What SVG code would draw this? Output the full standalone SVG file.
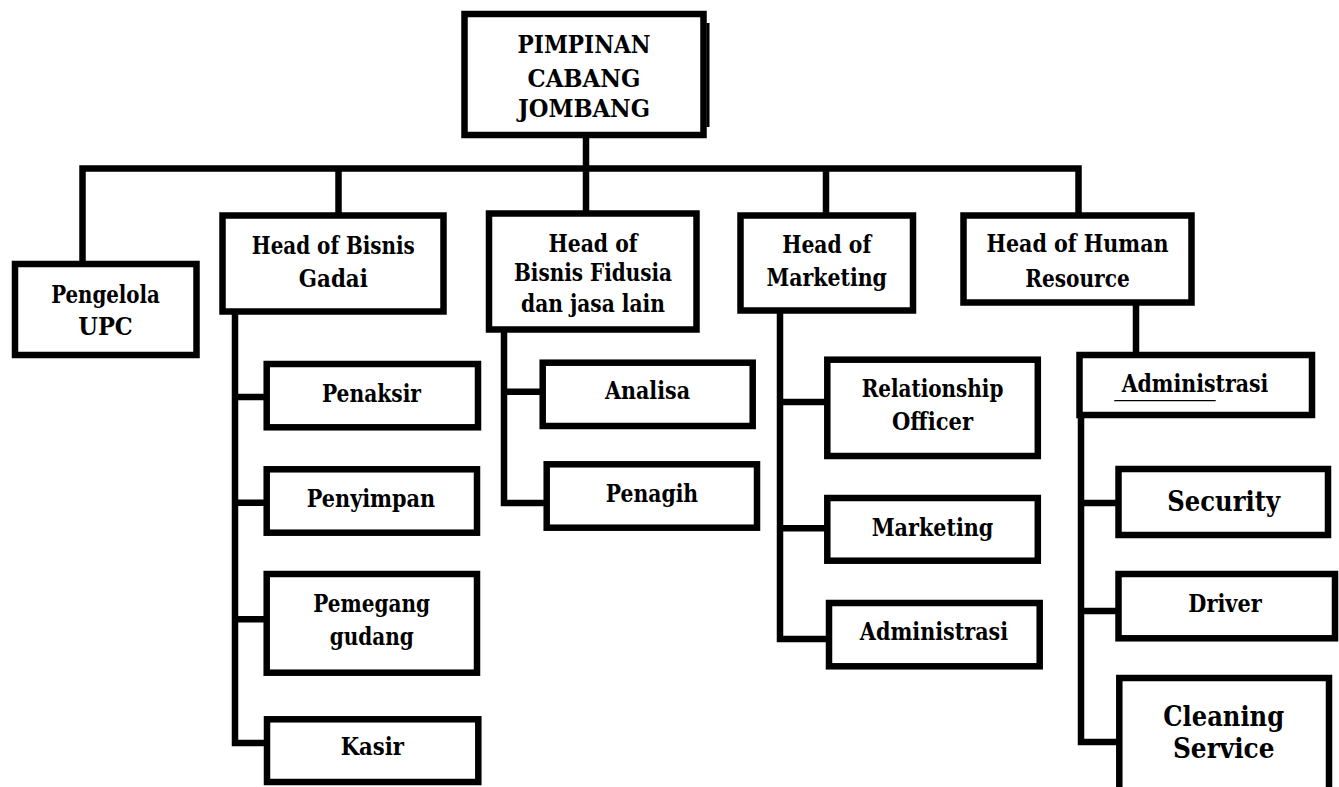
<svg xmlns="http://www.w3.org/2000/svg" width="1339" height="787" viewBox="0 0 1339 787" font-family="'DejaVu Serif', serif">
<style>
.box{fill:#fff;stroke:#000;stroke-width:6.5}
.ln{fill:none;stroke:#000;stroke-width:6.5;stroke-linejoin:miter}
text{font-weight:bold;font-size:24px;font-stretch:condensed;text-anchor:middle;fill:#000}
.big{font-size:28px}
</style>
<rect width="1339" height="787" fill="#fff"/>
<g id="connectors">
<path class="ln" d="M586 135 V213.5"/>
<path class="ln" d="M82.5 264 V168.5 H1078.5 V215.5"/>
<path class="ln" d="M338.5 168.5 V215.5"/>
<path class="ln" d="M826 168.5 V215.5"/>
<path class="ln" d="M1136 302.5 V355"/>
<path class="ln" d="M235 311.5 V743 H267"/>
<path class="ln" d="M235 397 H267 M235 502.7 H267 M235 619.3 H267"/>
<path class="ln" d="M504 329 V503 H547"/>
<path class="ln" d="M504 391.7 H543"/>
<path class="ln" d="M780 310.7 V639 H829"/>
<path class="ln" d="M780 402 H827.3 M780 528.3 H827.3"/>
<path class="ln" d="M1081 415 V742 H1119"/>
<path class="ln" d="M1081 503 H1118.5 M1081 611 H1118.5"/>
</g>
<g id="pimpinan">
<rect class="box" x="464.5" y="14" width="239" height="121"/>
<rect x="706.5" y="23" width="3" height="104" fill="#000"/>
<text x="584" y="53" textLength="133" lengthAdjust="spacingAndGlyphs">PIMPINAN</text>
<text x="584" y="87" textLength="113" lengthAdjust="spacingAndGlyphs">CABANG</text>
<text x="584" y="117" textLength="132" lengthAdjust="spacingAndGlyphs">JOMBANG</text>
</g>
<g id="pengelola">
<rect class="box" x="15" y="264" width="181.5" height="91"/>
<text x="105.5" y="302.7" textLength="108.7" lengthAdjust="spacingAndGlyphs">Pengelola</text>
<text x="105.5" y="335" textLength="54.5" lengthAdjust="spacingAndGlyphs">UPC</text>
</g>
<g id="head-gadai">
<rect class="box" x="222.5" y="215.5" width="221" height="96"/>
<text x="333.3" y="254" textLength="163" lengthAdjust="spacingAndGlyphs">Head of Bisnis</text>
<text x="333.3" y="286.7" textLength="69" lengthAdjust="spacingAndGlyphs">Gadai</text>
</g>
<g id="head-fidusia">
<rect class="box" x="489" y="213.5" width="207.5" height="116"/>
<text x="593" y="251.7" textLength="89" lengthAdjust="spacingAndGlyphs">Head of</text>
<text x="593" y="281" textLength="158" lengthAdjust="spacingAndGlyphs">Bisnis Fidusia</text>
<text x="593" y="311.7" textLength="144" lengthAdjust="spacingAndGlyphs">dan jasa lain</text>
</g>
<g id="head-marketing">
<rect class="box" x="740.5" y="215.5" width="172.5" height="95"/>
<text x="826.7" y="252.7" textLength="89" lengthAdjust="spacingAndGlyphs">Head of</text>
<text x="826.7" y="286" textLength="120.5" lengthAdjust="spacingAndGlyphs">Marketing</text>
</g>
<g id="head-hr">
<rect class="box" x="963.5" y="215.5" width="228" height="87"/>
<text x="1077.5" y="251.7" textLength="182" lengthAdjust="spacingAndGlyphs">Head of Human</text>
<text x="1077.5" y="286.7" textLength="104.5" lengthAdjust="spacingAndGlyphs">Resource</text>
</g>
<g id="penaksir">
<rect class="box" x="266.7" y="364" width="211.3" height="63.3"/>
<text x="371.5" y="401.7" textLength="99" lengthAdjust="spacingAndGlyphs">Penaksir</text>
</g>
<g id="penyimpan">
<rect class="box" x="266.7" y="469.3" width="210.3" height="63.4"/>
<text x="371" y="506.7" textLength="128.3" lengthAdjust="spacingAndGlyphs">Penyimpan</text>
</g>
<g id="pemegang-gudang">
<rect class="box" x="266.7" y="574" width="210.3" height="98.7"/>
<text x="371.7" y="611.7" textLength="116.7" lengthAdjust="spacingAndGlyphs">Pemegang</text>
<text x="371.7" y="645" textLength="84" lengthAdjust="spacingAndGlyphs">gudang</text>
</g>
<g id="kasir">
<rect class="box" x="267" y="719.3" width="211.3" height="62.7"/>
<text x="372.3" y="755" textLength="63.3" lengthAdjust="spacingAndGlyphs">Kasir</text>
</g>
<g id="analisa">
<rect class="box" x="542.7" y="362.7" width="210" height="63.3"/>
<text x="647.5" y="399.3" textLength="85" lengthAdjust="spacingAndGlyphs">Analisa</text>
</g>
<g id="penagih">
<rect class="box" x="546.7" y="464.3" width="210.3" height="63.4"/>
<text x="652" y="501.7" textLength="92.3" lengthAdjust="spacingAndGlyphs">Penagih</text>
</g>
<g id="relationship-officer">
<rect class="box" x="827.3" y="359.7" width="210.5" height="96.3"/>
<text x="932.5" y="396.7" textLength="141.7" lengthAdjust="spacingAndGlyphs">Relationship</text>
<text x="932.5" y="430" textLength="81" lengthAdjust="spacingAndGlyphs">Officer</text>
</g>
<g id="marketing">
<rect class="box" x="827.3" y="498" width="210.5" height="62.7"/>
<text x="932.5" y="536" textLength="121.7" lengthAdjust="spacingAndGlyphs">Marketing</text>
</g>
<g id="administrasi-marketing">
<rect class="box" x="829" y="603" width="210.7" height="63.3"/>
<text x="934" y="640" textLength="148.3" lengthAdjust="spacingAndGlyphs">Administrasi</text>
</g>
<g id="administrasi-hr">
<rect class="box" x="1079.5" y="355" width="232.5" height="60"/>
<text x="1195" y="392" textLength="146.7" lengthAdjust="spacingAndGlyphs">Administrasi</text>
<line x1="1114.3" y1="400.7" x2="1215.7" y2="400.7" stroke="#000" stroke-width="1.2"/>
</g>
<g id="security">
<rect class="box" x="1118.5" y="469" width="209.5" height="66"/>
<text class="big" x="1223.7" y="511" textLength="112.7" lengthAdjust="spacingAndGlyphs">Security</text>
</g>
<g id="driver">
<rect class="box" x="1118.5" y="574" width="216.5" height="64.3"/>
<text x="1225" y="611.7" textLength="73.3" lengthAdjust="spacingAndGlyphs">Driver</text>
</g>
<g id="cleaning-service">
<rect class="box" x="1119.3" y="678" width="209.7" height="120"/>
<text class="big" x="1223.7" y="725.7" textLength="120.7" lengthAdjust="spacingAndGlyphs">Cleaning</text>
<text class="big" x="1223.7" y="758.3" textLength="101.5" lengthAdjust="spacingAndGlyphs">Service</text>
</g>
</svg>
